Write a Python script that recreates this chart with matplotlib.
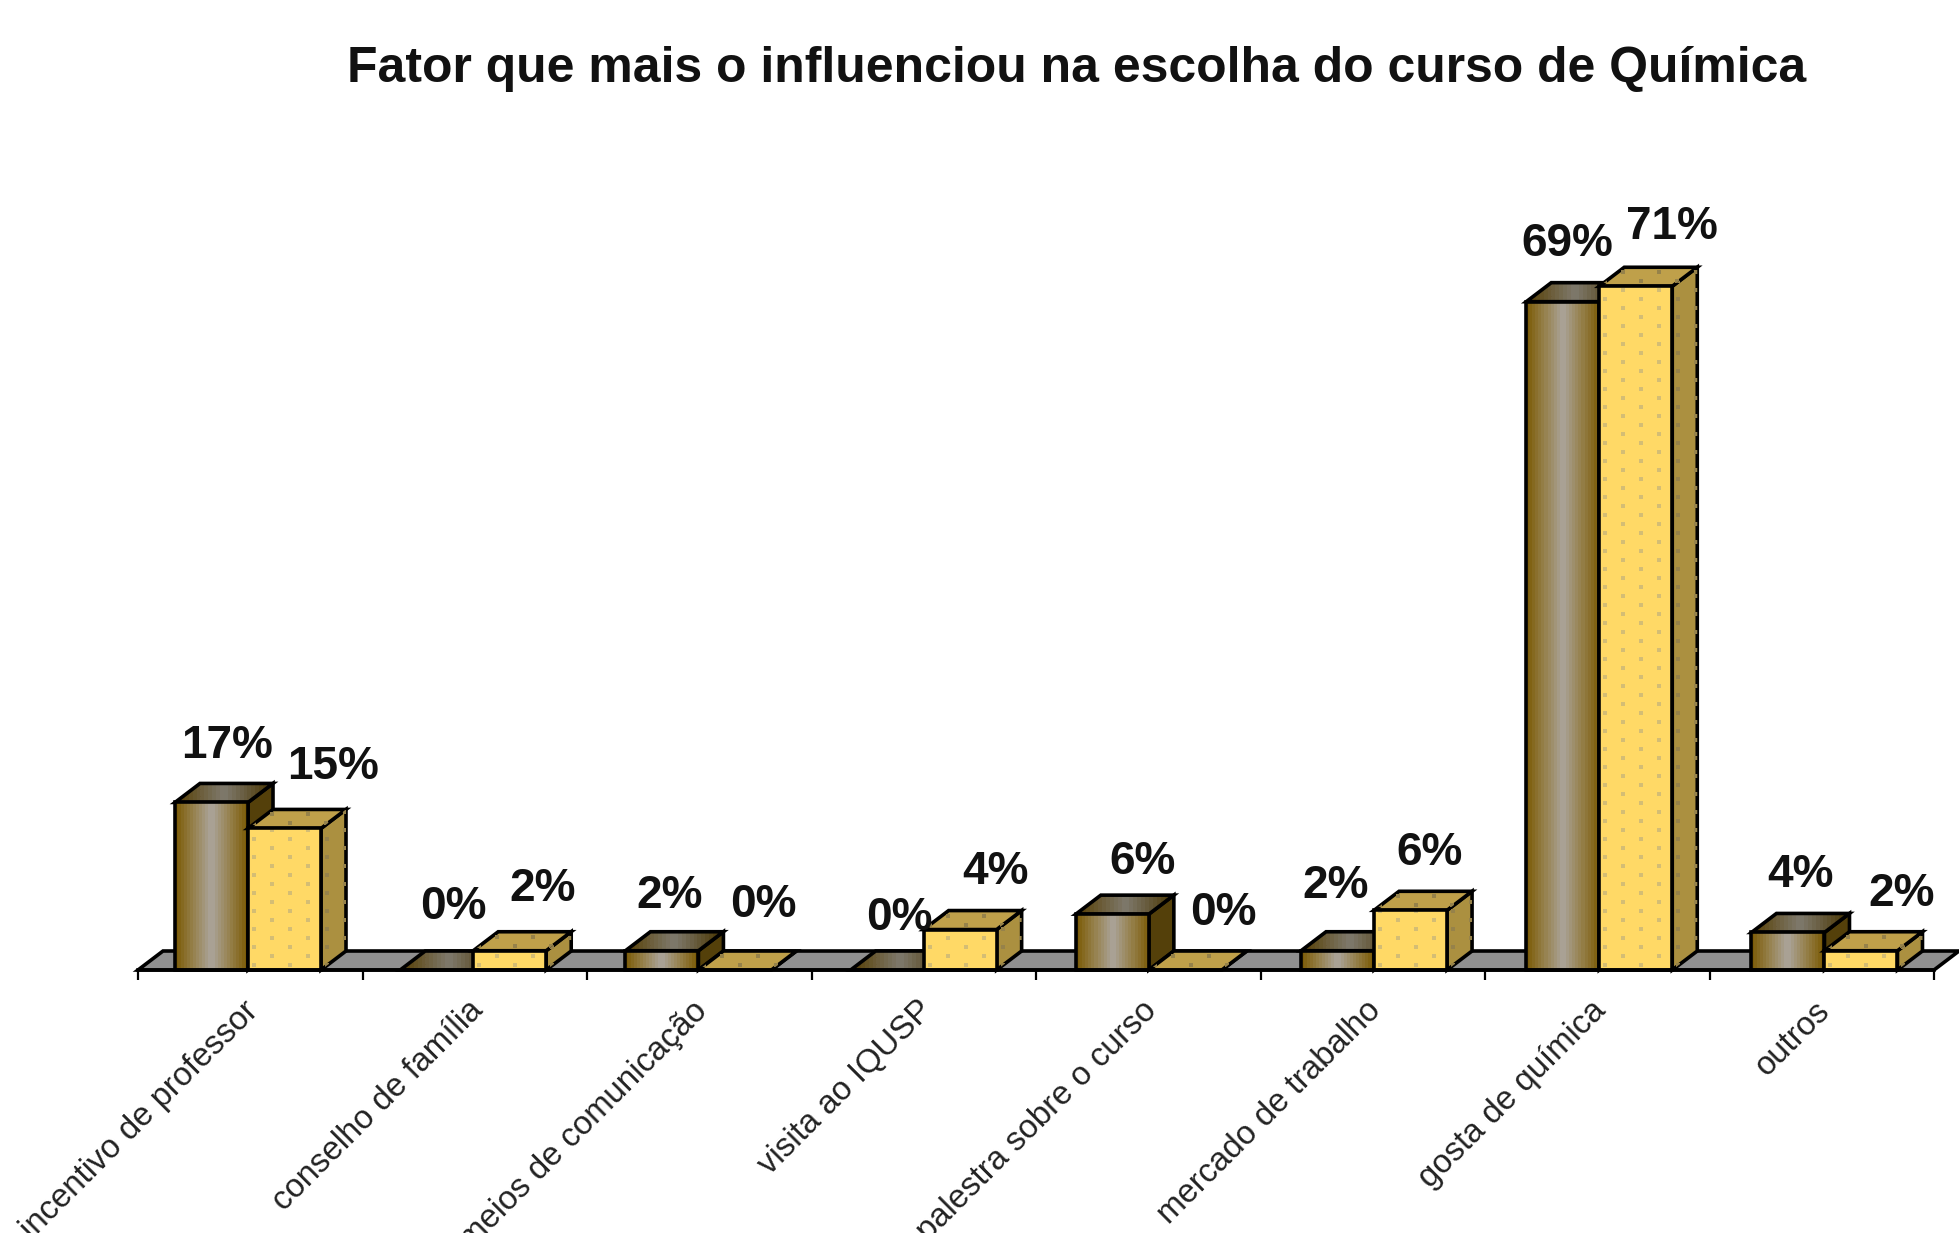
import numpy as np
import matplotlib
matplotlib.use('Agg')
import matplotlib.pyplot as plt
from matplotlib.colors import LinearSegmentedColormap
from matplotlib.patches import Polygon, Rectangle

plt.rcParams['font.family'] = ['Liberation Sans', 'DejaVu Sans']

title = 'Fator que mais o influenciou na escolha do curso de Química'
categories = ['incentivo de professor', 'conselho de família', 'meios de comunicação',
              'visita ao IQUSP', 'palestra sobre o curso', 'mercado de trabalho',
              'gosta de química', 'outros']
series_a = [17.4, 0, 2.0, 0, 5.8, 2.0, 69.4, 3.9]
series_b = [14.7, 2.0, 0, 4.2, 0, 6.2, 71.0, 2.0]

# hand placed label offsets from bar centre / bar top, in pixels
label_a_off = [(16, 56), (17, 63), (8, 55), (12, 52), (30, 52), (-2, 65), (5, 58), (13, 57)]
label_b_off = [(49, 61), (33, 62), (28, 65), (35, 58), (38, 57), (19, 57), (36, 59), (41, 57)]

W, H = 1959, 1233
X0, X1, BASE = 138, 1934, 970
PX_PER_PCT = 9.63
fig = plt.figure(figsize=(W / 100, H / 100), dpi=100, facecolor='white')
ax = fig.add_axes([X0 / W, (H - BASE) / H, (X1 - X0) / W, 700 / H])
ax.set_xlim(0, 8)
ax.set_ylim(0, 700 / PX_PER_PCT)

px_x = 8 / (X1 - X0)
px_y = 1 / PX_PER_PCT
DX, DY = 25 * px_x, 19 * px_y
BAR_W = 73 * px_x
LEFT = 37 * px_x
PITCH = 1.00317  # bars drift slightly against the ticks
LW = 2.6

brown = LinearSegmentedColormap.from_list('brown', ['#7c5c08', '#97824f', '#aba59b', '#97824f', '#7c5c08'], N=24)
brown_top = LinearSegmentedColormap.from_list('brown_top', ['#5a430a', '#7f7a6e', '#4d3a08'], N=24)
grad = np.linspace(0, 1, 24).reshape(1, -1)


def poly(pts, color, z):
    p = Polygon(pts, closed=True, facecolor=color, edgecolor='black', linewidth=LW,
                joinstyle='miter', zorder=z, clip_on=False)
    ax.add_patch(p)
    return p


def dots(x0, y0, w, h, clip, color, z, size=9):
    # speckle texture of the yellow series
    xs, ys = np.meshgrid(np.arange(x0 + 6 * px_x, x0 + w, 18 * px_x),
                         np.arange(y0 + 5 * px_y, y0 + h, 9 * px_y))
    odd = (np.round((ys - y0) / (9 * px_y)).astype(int) % 2 == 1)
    even_col = (np.round((xs - x0) / (18 * px_x)).astype(int) % 2 == 0)
    keep = odd == even_col
    sc = ax.scatter(xs[keep], ys[keep], s=size, marker='s', color=color, linewidths=0, zorder=z)
    sc.set_clip_path(clip)


def bar3d(x, v, z, yellow):
    top = [(x, v), (x + BAR_W, v), (x + BAR_W + DX, v + DY), (x + DX, v + DY)]
    side = [(x + BAR_W, 0), (x + BAR_W + DX, DY), (x + BAR_W + DX, v + DY), (x + BAR_W, v)]
    if yellow:
        s = poly(side, '#ab9040', z)
        t = poly(top, '#bfa04a', z + 0.1)
        dots(x + BAR_W, 0, DX, v + DY, s, '#96824a', z + 0.15, 5)
        dots(x, v, BAR_W + DX, DY, t, '#96824a', z + 0.15, 5)
    else:
        poly(side, '#54400a', z)
        t = poly(top, 'none', z + 0.1)
        im = ax.imshow(grad, cmap=brown_top, extent=(x, x + BAR_W + DX, v, v + DY),
                       aspect='auto', zorder=z + 0.05, interpolation='bilinear')
        im.set_clip_path(Polygon(top, closed=True, transform=ax.transData))
    if v > 0:
        if yellow:
            f = Rectangle((x, 0), BAR_W, v, facecolor='#ffd966', edgecolor='none', zorder=z + 0.2)
            ax.add_patch(f)
            dots(x, 0, BAR_W, v, f, '#d4bd74', z + 0.25, 10)
        else:
            ax.imshow(grad, cmap=brown, extent=(x, x + BAR_W, 0, v), aspect='auto',
                      zorder=z + 0.2, interpolation='nearest')
        ax.add_patch(Rectangle((x, 0), BAR_W, v, fill=False, edgecolor='black', linewidth=LW,
                               zorder=z + 0.3, joinstyle='miter', clip_on=False))


# floor
poly([(0, 0), (8, 0), (8 + DX, DY), (DX, DY)], '#909090', 1)

for i, (a, b) in enumerate(zip(series_a, series_b)):
    xa = i * PITCH + LEFT
    xb = xa + BAR_W
    bar3d(xa, a, 2 + i, False)
    bar3d(xb, b, 2.5 + i, True)
    for x, v, off in ((xa, a, label_a_off[i]), (xb, b, label_b_off[i])):
        ax.annotate(f'{v:.0f}%', (x + BAR_W / 2, v), xytext=off, textcoords='offset pixels',
                    ha='center', va='center', fontsize=33, fontweight='bold', color='#111111',
                    zorder=30, annotation_clip=False)
    ax.text(i + 0.468, -25 * px_y, categories[i], rotation=45, rotation_mode='anchor',
            ha='right', va='top', fontsize=23.7, color='#222222', clip_on=False)

ax.set_xlim(0, 8)
ax.set_ylim(0, 700 / PX_PER_PCT)
ax.patch.set_visible(False)
for name in ('top', 'left', 'right'):
    ax.spines[name].set_visible(False)
ax.spines['bottom'].set_linewidth(2.6)
ax.spines['bottom'].set_zorder(20)
ax.set_yticks([])
ax.set_xticks(np.arange(9))
ax.set_xticklabels([])
ax.tick_params(axis='x', length=7, width=1.6, color='black')

fig.text(1077 / W, 1 - 69 / H, title, ha='center', va='center', fontsize=35.9,
         fontweight='bold', color='#111111')

fig.savefig('out.png', dpi=100)
